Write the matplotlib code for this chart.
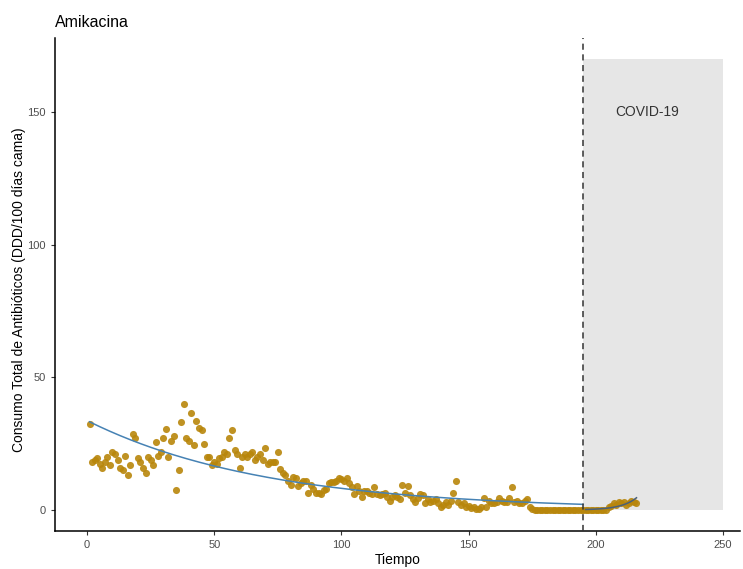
import numpy as np
import matplotlib.pyplot as plt

plt.rcParams['font.family'] = ['Liberation Sans', 'DejaVu Sans']

# Monthly consumption of amikacin (DDD/100 bed-days)
tiempo = np.arange(1, 217)
consumo = np.array([
    32.5, 18, 19, 19.5, 17.5, 16, 18, 20, 17, 22,
    21, 19, 16, 15, 20.5, 13, 17, 28.5, 27, 19.5,
    18, 16, 14, 20, 19, 17, 25.5, 20.5, 22, 27,
    30.5, 20, 26, 28, 7.5, 15, 33, 40, 27, 26,
    36.5, 24.5, 33.5, 31, 30, 25, 20, 20, 17, 18,
    17.5, 19.5, 20, 22, 21, 27, 30, 22.5, 21, 16,
    20, 21, 20, 21, 22, 19, 20, 21, 19, 23.5,
    17.5, 18, 18, 18, 22, 15.5, 14, 13, 11, 9.5,
    12.5, 12, 9, 10, 11, 11, 6.5, 9.5, 8, 6.5,
    6.5, 6, 7.5, 8, 10, 10.5, 10.5, 11, 12, 11.5,
    11, 12, 10, 8.5, 6, 9, 7, 5, 7, 7,
    6.5, 6, 8.5, 6, 5.5, 6, 6.5, 5, 3.5, 5,
    5.5, 5, 4, 9.5, 6.5, 9, 5.5, 4, 3, 4.5,
    6, 5.5, 2.5, 4, 3, 3.5, 4, 2.5, 1, 2,
    3, 2, 3.5, 6.5, 11, 3, 2, 2.5, 1, 1.5,
    0.8, 1, 0.5, 0.5, 1, 4.5, 1, 3.5, 2.5, 2.5,
    3, 4.5, 3.5, 3, 3, 4.5, 8.5, 3, 3.5, 2.5,
    2.5, 3.5, 4, 1, 0.5, 0, 0, 0, 0, 0,
    0, 0, 0, 0, 0, 0, 0, 0, 0, 0,
    0, 0, 0, 0, 0, 0, 0, 0, 0, 0,
    0, 0, 0, 0, 1, 1.5, 2.5, 2, 3, 2.5,
    3, 2, 2.5, 3.5, 3, 2.5,
])

inicio_covid = 195
fin_periodo = 250
techo_covid = 170


def poisson_fit(t, y):
    # log-linear Poisson regression via IRLS
    X = np.column_stack([np.ones_like(t, dtype=float), t])
    beta = np.array([np.log(y.mean() + 1e-6), 0.0])
    for _ in range(100):
        eta = X @ beta
        mu = np.exp(eta)
        z = eta + (y - mu) / mu
        beta = np.linalg.solve(X.T @ (mu[:, None] * X), X.T @ (mu * z))
    return np.exp(X @ beta)


pre = tiempo <= inicio_covid
post = tiempo > inicio_covid
ajuste_pre = poisson_fit(tiempo[pre].astype(float), consumo[pre])
ajuste_post = poisson_fit(tiempo[post].astype(float), consumo[post])

fig = plt.figure(figsize=(7.43, 5.69), dpi=100)
ax = fig.add_axes([0.074, 0.067, 0.922, 0.866])

ax.fill_between([inicio_covid, fin_periodo], 0, techo_covid, color='#E6E6E6', lw=0, zorder=1)
ax.text(220, 150, 'COVID-19', ha='center', va='center', fontsize=10, color='#333333')

ax.scatter(tiempo, consumo, s=26, color='#B8860B', alpha=0.9, lw=0, zorder=2)
ax.plot(tiempo[pre], ajuste_pre, color='#4682B4', lw=1.1, zorder=3)
ax.plot(tiempo[post], ajuste_post, color='#4A6079', lw=1.1, zorder=3)
ax.axvline(inicio_covid, color='#333333', lw=1.1, ls=(0, (4, 3)), zorder=4)

ax.set_xlim(-12.6, 256.7)
ax.set_ylim(-7.9, 178)
ax.set_xticks([0, 50, 100, 150, 200, 250])
ax.set_yticks([0, 50, 100, 150])
ax.tick_params(labelsize=8, labelcolor='#4D4D4D', color='#333333', length=3, width=0.8)
for lado in ['top', 'right']:
    ax.spines[lado].set_visible(False)
for lado in ['left', 'bottom']:
    ax.spines[lado].set_linewidth(1.1)

ax.set_xlabel('Tiempo', fontsize=10, labelpad=2)
ax.set_ylabel('Consumo Total de Antibióticos (DDD/100 días cama)', fontsize=10)
ax.yaxis.set_label_coords(-0.043, 0.49)
ax.set_title('Amikacina', loc='left', fontsize=11.5, pad=8)

fig.savefig('out.png', dpi=100)
